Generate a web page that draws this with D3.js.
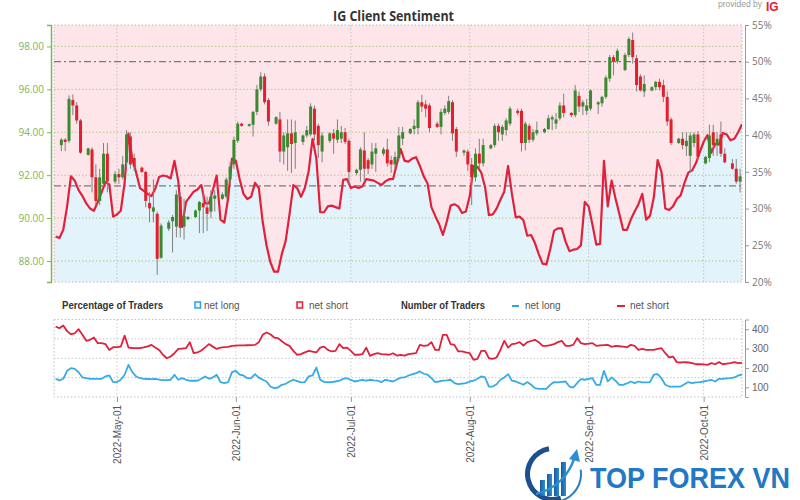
<!DOCTYPE html>
<html><head><meta charset="utf-8">
<script src="https://cdn.jsdelivr.net/npm/d3@7"></script>
<style>body{margin:0;background:#fff}svg{display:block}</style>
</head><body><svg id="c" width="800" height="500"></svg>
<script>
// ---------- DATA ----------
const firstDay = "2022-04-15", lastDay = "2022-10-11";
// daily % of traders net long (right axis)
const netLongPct = [26.2,26.0,27.1,30.3,34.4,33.8,32.5,31.7,30.7,30.0,
 29.7,30.9,32.2,33.6,33.3,28.9,
 29.2,29.7,33.5,40.2,36.8,34.9,32.8,32.4,32.0,31.7,
 32.7,34.3,34.5,34.4,34.1,36.5,33.7,27.5,30.9,31.6,
 32.3,32.6,33.2,30.7,30.7,32.5,34.5,28.5,28.1,31.4,
 36.8,36.5,34.0,32.0,31.3,31.6,33.5,32.8,28.2,25.0,
 22.7,21.4,21.4,23.8,25.6,29.2,33.2,32.8,31.6,32.8,
 35.1,39.5,36.8,29.5,29.5,30.3,30.4,30.2,30.0,33.9,
 34.0,32.8,33.0,32.8,33.0,34.0,33.9,33.8,33.5,33.2,
 33.7,34.0,34.0,36.1,38.1,36.5,36.4,36.8,37.0,35.8,
 34.4,33.4,30.2,29.0,27.9,26.4,28.2,30.4,30.6,30.3,
 29.4,29.6,31.7,35.8,35.7,34.9,32.9,29.1,29.2,30.0,
 31.2,32.3,35.8,32.0,28.8,28.9,28.4,26.3,26.4,25.3,
 23.8,22.5,22.4,24.5,27.0,27.3,27.3,25.5,24.2,24.4,
 24.5,25.0,30.9,30.3,27.8,25.1,25.2,36.5,30.3,33.8,
 31.4,29.3,27.1,27.1,28.5,29.6,30.6,32.0,28.5,29.0,
 31.5,36.6,35.0,30.0,29.8,30.3,31.3,31.8,33.5,34.9,
 35.2,36.2,37.7,39.1,40.0,37.6,38.8,38.7,40.3,40.1,
 39.3,39.5,40.4,41.5];
// daily number of traders
const netShortCount = [414,405,419,390,374,379,400,371,340,345,
 357,328,328,323,293,307,
 307,310,367,305,303,302,302,306,311,319,
 305,293,268,250,259,276,298,300,302,333,
 276,280,290,306,323,310,298,305,307,309,
 314,315,316,316,317,318,319,333,371,383,
 374,357,354,338,323,314,288,268,271,280,
 288,284,280,305,310,293,285,288,323,302,
 305,288,268,268,271,305,262,271,276,271,
 270,268,276,264,268,264,271,274,276,319,
 314,316,333,293,293,371,371,323,319,285,
 285,280,276,242,247,288,288,250,247,254,
 293,340,305,323,326,333,316,333,339,345,
 333,314,314,318,323,333,340,314,314,319,
 354,328,323,325,328,314,316,318,319,309,
 314,312,310,307,319,314,293,298,293,293,
 293,298,302,276,254,259,230,228,230,228,
 225,219,219,218,216,225,219,230,219,222,
 225,230,225,226];
const netLongCount = [144,135,144,185,199,195,178,151,147,144,
 144,144,144,156,161,127,
 127,139,165,216,178,156,147,144,143,142,
 144,140,137,137,139,165,139,147,139,134,
 134,134,144,156,144,151,165,127,122,127,
 178,185,165,161,147,147,168,150,139,130,
 104,96,99,113,118,130,139,132,125,127,
 156,161,202,139,127,127,127,130,134,144,
 147,138,130,134,139,134,139,136,134,127,
 139,134,130,140,150,151,161,167,173,182,
 170,165,147,127,130,134,136,139,122,116,
 119,122,130,134,144,156,151,104,104,116,
 139,151,168,134,130,122,113,127,113,96,
 92,92,92,113,127,125,128,130,104,99,
 122,142,139,143,147,113,113,185,130,151,
 134,113,113,120,130,122,130,125,126,127,
 165,168,147,113,104,104,104,104,116,127,
 122,125,127,130,134,139,130,144,144,146,
 147,151,161,165];
// price candles
const candleDates = ["2022-04-17","2022-04-18","2022-04-19","2022-04-20","2022-04-21","2022-04-22",
 "2022-04-24","2022-04-25","2022-04-26","2022-04-27","2022-04-28","2022-04-29",
 "2022-05-01","2022-05-02","2022-05-03","2022-05-04","2022-05-05","2022-05-06",
 "2022-05-08","2022-05-09","2022-05-10","2022-05-11","2022-05-12","2022-05-13",
 "2022-05-15","2022-05-16","2022-05-17","2022-05-18","2022-05-19","2022-05-20",
 "2022-05-22","2022-05-23","2022-05-24","2022-05-25","2022-05-26","2022-05-27",
 "2022-05-29","2022-05-30","2022-05-31","2022-06-01","2022-06-02","2022-06-03",
 "2022-06-05","2022-06-06","2022-06-07","2022-06-08","2022-06-09","2022-06-10",
 "2022-06-12","2022-06-13","2022-06-14","2022-06-15","2022-06-16","2022-06-17",
 "2022-06-19","2022-06-20","2022-06-21","2022-06-22","2022-06-23","2022-06-24",
 "2022-06-26","2022-06-27","2022-06-28","2022-06-29","2022-06-30","2022-07-01",
 "2022-07-03","2022-07-04","2022-07-05","2022-07-06","2022-07-07","2022-07-08",
 "2022-07-10","2022-07-11","2022-07-12","2022-07-13","2022-07-14","2022-07-15",
 "2022-07-17","2022-07-18","2022-07-19","2022-07-20","2022-07-21","2022-07-22",
 "2022-07-24","2022-07-25","2022-07-26","2022-07-27","2022-07-28","2022-07-29",
 "2022-07-31","2022-08-01","2022-08-02","2022-08-03","2022-08-04","2022-08-05",
 "2022-08-07","2022-08-08","2022-08-09","2022-08-10","2022-08-11","2022-08-12",
 "2022-08-14","2022-08-15","2022-08-16","2022-08-17","2022-08-18","2022-08-19",
 "2022-08-21","2022-08-22","2022-08-23","2022-08-24","2022-08-25","2022-08-26",
 "2022-08-28","2022-08-29","2022-08-30","2022-08-31","2022-09-01","2022-09-02",
 "2022-09-04","2022-09-05","2022-09-06","2022-09-07","2022-09-08","2022-09-09",
 "2022-09-11","2022-09-12","2022-09-13","2022-09-14","2022-09-15","2022-09-16",
 "2022-09-18","2022-09-19","2022-09-20","2022-09-21","2022-09-22","2022-09-23",
 "2022-09-25","2022-09-26","2022-09-27","2022-09-28","2022-09-29","2022-09-30",
 "2022-10-02","2022-10-03","2022-10-04","2022-10-05","2022-10-06","2022-10-07",
 "2022-10-09","2022-10-10","2022-10-11"];
const candleOpen = [93.40,93.66,93.60,95.50,95.25,94.55, 92.95,93.20,91.90,90.80,91.60,93.00,
 91.70,92.05,91.90,92.60,93.80,92.80, 92.35,92.15,90.70,90.30,90.20,88.15,
 89.50,89.85,89.60,91.00,89.60,89.95, 90.05,90.35,90.70,90.50,90.30,90.90,
 90.90,91.00,91.80,92.50,93.60,94.40, 94.30,94.35,94.95,96.00,96.60,95.50,
 94.40,94.60,93.10,93.30,93.95,93.50, 93.55,93.85,93.90,95.10,94.30,93.10,
 93.60,93.95,93.65,93.70,94.00,93.60, 92.10,92.25,93.15,92.70,92.50,93.00,
 93.00,93.20,92.70,92.50,92.80,93.70, 93.95,94.15,94.20,95.40,95.30,95.25,
 94.40,94.25,94.90,94.95,95.40,94.15, 93.05,93.10,92.50,91.90,93.00,92.55,
 93.25,93.40,94.30,93.90,94.10,94.40, 95.00,95.00,93.50,94.30,93.65,93.95,
 94.00,94.15,94.60,94.40,94.65,95.25, 94.90,94.80,95.70,95.20,95.00,95.10,
 95.30,95.35,95.65,96.50,97.50,97.30, 96.90,97.60,98.30,97.45,96.60,95.90,
 95.95,96.10,96.35,96.20,95.65,94.60, 93.50,93.70,93.35,92.90,93.50,93.90,
 92.55,92.80,94.00,93.40,93.90,93.00, 92.55,92.30,91.70];
const candleHigh = [93.72,93.72,95.72,95.76,95.40,94.62, 93.28,93.30,92.50,92.30,93.50,93.50,
 92.20,92.30,92.90,94.10,94.00,93.00, 92.40,92.20,91.20,91.80,90.30,89.75,
 89.90,90.15,91.30,91.20,90.90,90.10, 90.40,90.80,91.20,91.00,91.30,91.30,
 91.20,91.90,92.60,93.80,94.50,94.45, 94.40,95.00,96.20,96.80,96.75,95.60,
 94.75,94.95,94.00,94.60,94.60,94.55, 93.90,94.30,95.35,95.25,94.40,94.00,
 94.00,94.15,94.60,94.30,94.20,93.70, 92.30,93.30,94.00,92.80,93.50,93.50,
 93.30,93.70,92.90,93.10,94.25,94.25, 94.20,94.60,95.50,95.75,95.50,95.35,
 94.50,95.10,95.25,95.70,95.50,94.25, 93.20,93.20,92.80,93.25,93.70,93.70,
 93.45,94.40,94.40,94.35,94.65,95.20, 95.10,95.10,94.50,94.40,94.15,94.50,
 94.20,94.80,94.80,94.90,95.40,95.80, 94.95,96.20,95.90,95.50,95.55,96.00,
 95.45,95.70,96.65,97.60,97.60,97.90, 97.70,98.45,98.65,97.60,96.70,96.65,
 96.15,96.40,96.50,96.45,95.90,94.70, 93.75,94.00,94.00,94.00,94.00,94.05,
 92.90,94.35,94.35,94.00,94.50,93.25, 92.75,92.75,92.30];
const candleLow = [93.12,93.12,93.50,94.80,94.40,93.00, 92.90,91.20,90.60,90.60,91.50,91.20,
 91.60,91.60,91.80,92.40,92.30,92.20, 92.10,90.50,89.80,89.80,87.35,88.10,
 89.40,88.40,89.10,89.10,89.00,89.90, 90.00,89.30,89.30,89.40,90.00,90.30,
 90.85,90.90,91.60,92.30,93.50,94.25, 94.25,93.80,94.80,95.90,95.30,94.30,
 94.35,92.60,92.50,92.20,92.10,92.30, 93.40,93.75,93.80,93.60,92.80,92.60,
 93.50,93.00,93.50,93.50,93.45,91.55, 92.00,91.70,91.70,92.05,92.30,92.15,
 92.90,92.40,92.10,92.30,92.70,93.40, 93.90,93.90,93.90,94.95,94.70,94.00,
 94.20,93.90,94.80,94.85,93.60,92.85, 92.90,92.20,90.60,91.70,92.30,92.40,
 93.20,93.30,93.60,93.60,93.85,94.30, 94.80,93.10,93.15,93.50,93.55,93.85,
 93.95,94.10,94.10,94.15,94.55,94.70, 94.70,94.70,94.95,94.80,94.80,95.00,
 94.85,95.20,95.55,96.35,96.65,97.20, 96.85,97.50,97.20,95.90,95.90,95.65,
 95.90,95.95,95.95,95.40,94.30,93.40, 93.45,93.20,92.90,92.15,93.30,92.70,
 92.50,92.60,92.90,92.90,92.85,92.55, 92.25,91.60,91.20];
const candleClose = [93.66,93.55,95.56,95.25,94.55,93.05, 93.25,91.90,90.80,91.90,93.00,91.70,
 92.05,91.90,92.50,93.90,92.50,92.40, 92.15,90.80,90.45,90.50,88.10,89.65,
 89.80,90.05,91.10,89.55,90.10,90.05, 90.35,90.75,90.50,90.20,91.00,91.05,
 91.10,91.80,92.40,93.65,94.40,94.30, 94.38,94.95,96.00,96.60,95.40,94.50,
 94.70,93.10,93.85,93.95,93.45,94.00, 93.85,94.10,95.20,93.90,93.40,93.85,
 93.95,93.70,94.10,94.00,93.55,92.15, 92.25,93.20,92.30,92.30,93.10,93.25,
 93.20,92.55,92.50,92.85,93.85,94.00, 94.15,94.30,95.40,95.20,95.10,94.20,
 94.25,94.95,95.10,95.45,93.95,93.10, 93.15,92.50,91.90,93.00,92.55,93.40,
 93.40,94.30,94.00,94.25,94.55,95.10, 94.90,93.50,94.40,93.65,94.00,94.10,
 94.15,94.65,94.70,94.60,95.25,94.90, 94.80,95.95,95.20,95.40,95.25,95.95,
 95.40,95.65,96.55,97.50,97.30,97.80, 97.60,98.35,97.50,96.20,95.95,96.25,
 96.10,96.35,96.10,95.65,94.50,93.50, 93.70,93.40,93.60,93.85,93.90,92.85,
 92.85,93.85,93.40,93.70,93.00,92.60, 92.30,91.70,91.95];
const priceTicks = [88, 90, 92, 94, 96, 98];
const pctTicks = [20, 25, 30, 35, 40, 45, 50, 55];
const countTicks = [100, 200, 300, 400];
const countGrid = [150, 250, 350];
const refPctLines = [50, 33.1];
const monthTicks = ["2022-05-01","2022-06-01","2022-07-01","2022-08-01","2022-09-01","2022-10-01"];

// ---------- SETUP ----------
const svg = d3.select("#c");
const parseDay = d3.timeParse("%Y-%m-%d");
const days = d3.timeDay.range(parseDay(firstDay), d3.timeDay.offset(parseDay(lastDay), 1));
const months = monthTicks.map(parseDay);
const L = 54, R = 742, T = 25, B = 282, T2 = 319.5, B2 = 397;
const x = d3.scaleTime().domain([new Date(2022,3,14,14), new Date(2022,9,11)]).range([L, R]);
const yPrice = d3.scaleLinear().domain([87.02, 99.0]).range([B, T]);
const yPct = d3.scaleLinear().domain([20, 55]).range([B, T]);
const yCnt = d3.scaleLinear().domain([50, 450]).range([B2, T2]);
const FONT = "'Liberation Sans', Arial, sans-serif";

// title
svg.append("text").attr("x", 393.5).attr("y", 21).attr("text-anchor", "middle")
  .attr("font-family", "'Open Sans', sans-serif").attr("font-weight", 700).attr("font-size", 14)
  .attr("fill", "#333").attr("textLength", 121).attr("lengthAdjust", "spacingAndGlyphs")
  .text("IG Client Sentiment");
svg.append("text").attr("x", 718).attr("y", 7).attr("font-family", FONT).attr("font-size", 8.5)
  .attr("fill", "#9a9a9a").text("provided by");
svg.append("text").attr("x", 766).attr("y", 11).attr("font-family", FONT).attr("font-weight", 700)
  .attr("font-size", 12).attr("fill", "#e2202e").text("IG");

// ---------- MAIN PANEL ----------
const defs = svg.append("defs");
defs.append("clipPath").attr("id", "clipMain")
  .append("rect").attr("x", L).attr("y", T).attr("width", R - L).attr("height", B - T);
const main = svg.append("g");
main.append("rect").attr("x", L).attr("y", T).attr("width", R - L).attr("height", B - T).attr("fill", "#fde5e9");
const pctData = days.map((d, i) => ({ d, v: netLongPct[i] }));
main.append("path").datum(pctData).attr("clip-path", "url(#clipMain)")
  .attr("fill", "#e3f3fb")
  .attr("d", d3.area().x(p => x(p.d)).y0(B).y1(p => yPct(p.v)));

// grid
main.selectAll(".hg").data(priceTicks).join("line")
  .attr("x1", L).attr("x2", R).attr("y1", d => yPrice(d)).attr("y2", d => yPrice(d))
  .attr("stroke", "#b3c98c").attr("stroke-width", 1).attr("stroke-dasharray", "1.5,2");
main.selectAll(".vg").data(months).join("line")
  .attr("x1", d => x(d)).attr("x2", d => x(d)).attr("y1", T).attr("y2", B)
  .attr("stroke", "#c4c4c4").attr("stroke-width", 1).attr("stroke-dasharray", "1.5,2");
main.append("rect").attr("x", L).attr("y", T).attr("width", R - L).attr("height", B - T)
  .attr("fill", "none").attr("stroke", "#bcbcbc").attr("stroke-dasharray", "1.5,2");
main.selectAll(".ref").data(refPctLines).join("line")
  .attr("x1", L).attr("x2", R).attr("y1", d => yPct(d)).attr("y2", d => yPct(d))
  .attr("stroke", "#7a7a7a").attr("stroke-width", 1.3).attr("stroke-dasharray", "7,3,2,3");

// net long % line
main.append("path").datum(pctData).attr("clip-path", "url(#clipMain)")
  .attr("fill", "none").attr("stroke", "#e1213b").attr("stroke-width", 2.2).attr("stroke-linejoin", "round")
  .attr("d", d3.line().x(p => x(p.d)).y(p => yPct(p.v)));

// candles
const candles = candleDates.map((s, i) => ({
  d: d3.timeHour.offset(parseDay(s), -12), o: candleOpen[i], h: candleHigh[i], l: candleLow[i], c: candleClose[i]
}));
const cg = main.append("g");
cg.selectAll("line").data(candles).join("line")
  .attr("x1", c => x(c.d)).attr("x2", c => x(c.d))
  .attr("y1", c => yPrice(c.h)).attr("y2", c => yPrice(c.l))
  .attr("stroke", "#808080").attr("stroke-width", 1);
cg.selectAll("rect").data(candles).join("rect")
  .attr("x", c => x(c.d) - 1.5).attr("width", 3)
  .attr("y", c => yPrice(Math.max(c.o, c.c)))
  .attr("height", c => Math.max(1, Math.abs(yPrice(c.o) - yPrice(c.c))))
  .attr("fill", c => c.c >= c.o ? "#3b8a2f" : "#e0202e");

// axes
const axL = svg.append("g").attr("transform", "translate(51,0)")
  .call(d3.axisLeft(yPrice).tickValues(priceTicks).tickFormat(d3.format(".2f")).tickSize(4).tickSizeOuter(4));
axL.select(".domain").attr("stroke", "#7db55a").attr("stroke-width", 1.5);
axL.selectAll(".tick line").attr("stroke", "#7db55a");
axL.selectAll("text").attr("fill", "#7db55a").attr("font-family", "'Open Sans', sans-serif").attr("font-size", 10);
const axR = svg.append("g").attr("transform", "translate(745,0)")
  .call(d3.axisRight(yPct).tickValues(pctTicks).tickFormat(d => d + "%").tickSize(4).tickSizeOuter(0));
axR.select(".domain").attr("stroke", "#9a9a9a");
axR.selectAll(".tick line").attr("stroke", "#9a9a9a");
axR.selectAll("text").attr("fill", "#777").attr("font-family", "'Open Sans', sans-serif").attr("font-size", 10);

// ---------- LEGEND ----------
const lg = svg.append("g").attr("font-family", FONT).attr("font-size", 10);
lg.append("text").attr("x", 62).attr("y", 309).attr("font-weight", 700).attr("fill", "#333")
  .attr("textLength", 101).attr("lengthAdjust", "spacingAndGlyphs").text("Percentage of Traders");
lg.append("rect").attr("x", 195).attr("y", 302).attr("width", 5.5).attr("height", 6)
  .attr("fill", "#eaf5fb").attr("stroke", "#2aa4e4").attr("stroke-width", 1.5);
lg.append("text").attr("x", 204).attr("y", 309).attr("fill", "#555").text("net long");
lg.append("rect").attr("x", 297).attr("y", 302).attr("width", 5.5).attr("height", 6)
  .attr("fill", "#fbeaec").attr("stroke", "#e1213b").attr("stroke-width", 1.5);
lg.append("text").attr("x", 309).attr("y", 309).attr("fill", "#555").text("net short");
lg.append("text").attr("x", 401).attr("y", 309).attr("font-weight", 700).attr("fill", "#333")
  .attr("textLength", 84).attr("lengthAdjust", "spacingAndGlyphs").text("Number of Traders");
lg.append("line").attr("x1", 512).attr("x2", 519).attr("y1", 306).attr("y2", 306)
  .attr("stroke", "#2aa4e4").attr("stroke-width", 2);
lg.append("text").attr("x", 525).attr("y", 309).attr("fill", "#555").text("net long");
lg.append("line").attr("x1", 617).attr("x2", 625).attr("y1", 306).attr("y2", 306)
  .attr("stroke", "#e1213b").attr("stroke-width", 2);
lg.append("text").attr("x", 630).attr("y", 309).attr("fill", "#555").text("net short");

// ---------- BOTTOM PANEL ----------
const bot = svg.append("g");
bot.selectAll(".bh").data(countGrid).join("line")
  .attr("x1", L).attr("x2", R).attr("y1", d => yCnt(d)).attr("y2", d => yCnt(d))
  .attr("stroke", "#c8c8c8").attr("stroke-dasharray", "1.5,2");
bot.selectAll(".bv").data(months).join("line")
  .attr("x1", d => x(d)).attr("x2", d => x(d)).attr("y1", T2).attr("y2", B2)
  .attr("stroke", "#c8c8c8").attr("stroke-dasharray", "1.5,2");
bot.append("rect").attr("x", L).attr("y", T2).attr("width", R - L).attr("height", B2 - T2)
  .attr("fill", "none").attr("stroke", "#c0c0c0").attr("stroke-dasharray", "1.5,2");
const cntLine = arr => d3.line().x((d, i) => x(days[i])).y(d => yCnt(d))(arr);
bot.append("path").attr("d", cntLine(netShortCount)).attr("fill", "none")
  .attr("stroke", "#e1213b").attr("stroke-width", 1.8).attr("stroke-linejoin", "round");
bot.append("path").attr("d", cntLine(netLongCount)).attr("fill", "none")
  .attr("stroke", "#36ace6").attr("stroke-width", 1.8).attr("stroke-linejoin", "round");
const axR2 = svg.append("g").attr("transform", "translate(745,0)")
  .call(d3.axisRight(yCnt).tickValues(countTicks).tickSize(4).tickSizeOuter(4));
axR2.select(".domain").attr("stroke", "#9a9a9a");
axR2.selectAll(".tick line").attr("stroke", "#9a9a9a");
axR2.selectAll("text").attr("fill", "#666").attr("font-family", FONT).attr("font-size", 10);

// x axis (rotated month labels)
const axB = svg.append("g").attr("transform", `translate(0,${B2})`)
  .call(d3.axisBottom(x).tickValues(months).tickFormat(d3.timeFormat("%Y-%b-%d")).tickSize(5).tickSizeOuter(0));
axB.select(".domain").remove();
axB.selectAll(".tick line").attr("stroke", "#9a9a9a");
axB.selectAll("text").attr("fill", "#555").attr("font-family", FONT).attr("font-size", 10)
  .attr("text-anchor", "end").attr("transform", "rotate(-90)").attr("x", -8).attr("y", 0).attr("dy", "0.35em");

// ---------- WATERMARK LOGO ----------
const logo = svg.append("g");
const gr = defs.append("linearGradient").attr("id", "lg1").attr("x1", 0).attr("x2", 1).attr("y1", 0).attr("y2", 0);
gr.append("stop").attr("offset", "0%").attr("stop-color", "#1c5a9e");
gr.append("stop").attr("offset", "100%").attr("stop-color", "#2b8fd3");
logo.append("path").attr("transform", "translate(553,474)")
  .attr("d", d3.arc().innerRadius(23).outerRadius(28).startAngle(Math.PI * 0.9).endAngle(Math.PI * 1.95)())
  .attr("fill", "#1d4f8c");
logo.append("path").attr("transform", "translate(553,474)")
  .attr("d", d3.arc().innerRadius(27).outerRadius(29).startAngle(Math.PI * 0.45).endAngle(Math.PI * 0.9)())
  .attr("fill", "#2a7fc4");
[[540, 16], [547, 22], [554, 28], [561, 34]].forEach(([bx, bh]) => {
  logo.append("rect").attr("x", bx).attr("y", 496 - bh).attr("width", 5).attr("height", bh).attr("fill", "url(#lg1)");
});
logo.append("path").attr("d", "M536,494 Q566,486 575,456").attr("fill", "none").attr("stroke", "#2a8fd3").attr("stroke-width", 2.5);
logo.append("path").attr("d", "M569,459 L577,449 L580,462 Z").attr("fill", "#2a8fd3");
const wmG = logo.append("g");
const wm = wmG.append("text").attr("x", 0).attr("y", 0)
  .attr("font-family", "'Liberation Sans Narrow','Liberation Sans',Arial,sans-serif")
  .attr("font-weight", 700).attr("font-size", 29).attr("fill", "#2178c4").text("TOP FOREX VN");
const wmW = wm.node().getComputedTextLength();
wmG.attr("transform", `translate(590,488) scale(${(200 / wmW).toFixed(4)},1)`);
</script></body></html>
